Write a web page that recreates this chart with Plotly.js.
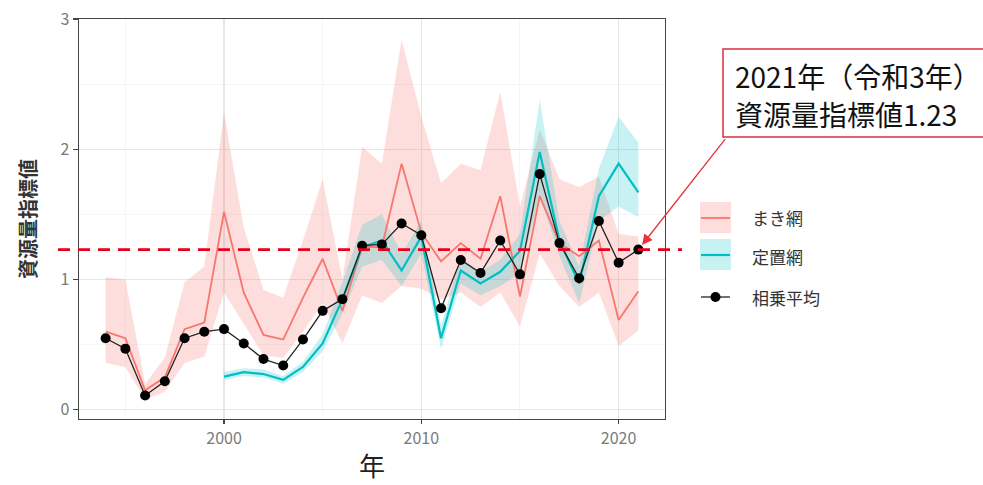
<!DOCTYPE html>
<html>
<head>
<meta charset="utf-8">
<script src="https://cdn.plot.ly/plotly-3.0.1.min.js"></script>
<style>
html,body{margin:0;padding:0;background:#fff;}
#chart{width:983px;height:485px;}
</style>
</head>
<body>
<div id="chart"></div>
<script>
// ---- data ----
const years = [1994,1995,1996,1997,1998,1999,2000,2001,2002,2003,2004,2005,2006,2007,2008,2009,2010,2011,2012,2013,2014,2015,2016,2017,2018,2019,2020,2021];
const meanIndex = [0.55,0.47,0.11,0.22,0.55,0.60,0.62,0.51,0.39,0.34,0.54,0.76,0.85,1.26,1.27,1.43,1.34,0.78,1.15,1.05,1.30,1.04,1.81,1.28,1.01,1.45,1.13,1.23];
const purseIndex = [0.60,0.55,0.15,0.25,0.62,0.67,1.52,0.90,0.575,0.54,0.86,1.16,0.76,1.25,1.25,1.89,1.36,1.14,1.28,1.16,1.64,0.87,1.64,1.28,1.18,1.30,0.69,0.91];
const purseUpper = [1.02,1.00,0.20,0.40,0.98,1.10,2.28,1.40,0.92,0.86,1.30,1.77,1.00,2.02,1.89,2.84,2.25,1.74,1.89,1.84,2.44,1.56,2.15,1.77,1.71,1.79,1.35,1.33];
const purseLower = [0.36,0.33,0.08,0.14,0.36,0.41,0.90,0.66,0.42,0.40,0.60,0.82,0.51,0.88,0.82,0.95,0.93,0.85,0.90,0.79,0.90,0.64,1.20,0.95,0.79,0.90,0.49,0.61];
const fixedYears = [2000,2001,2002,2003,2004,2005,2006,2007,2008,2009,2010,2011,2012,2013,2014,2015,2016,2017,2018,2019,2020,2021];
const fixedIndex = [0.255,0.29,0.275,0.23,0.33,0.51,0.85,1.25,1.30,1.07,1.33,0.55,1.07,0.97,1.06,1.22,1.98,1.30,0.97,1.64,1.89,1.67];
const fixedUpper = [0.29,0.32,0.31,0.26,0.37,0.58,0.98,1.42,1.50,1.20,1.45,0.65,1.17,1.06,1.15,1.35,2.38,1.45,1.10,1.85,2.25,2.05];
const fixedLower = [0.23,0.26,0.25,0.20,0.29,0.45,0.74,1.10,1.15,0.95,1.20,0.47,0.97,0.88,0.95,1.05,1.65,1.18,0.82,1.45,1.56,1.48];
const refValue = 1.23;
const refYear = 2021;
const legendLabels = ['まき網','定置網','相乗平均'];
const noteLines = ['2021年（令和3年）', '資源量指標値1.23'];

// ---- styles ----
const RED = '#F8766D', TEAL = '#00BFC4';
const FONT = '"Noto Sans CJK JP", "Noto Sans", sans-serif';

function band(xs, up, lo, color) {
  return {
    x: xs.concat(xs.slice().reverse()),
    y: up.concat(lo.slice().reverse()),
    type: 'scatter', mode: 'lines', fill: 'toself',
    fillcolor: color, line: {width: 0, color: 'rgba(0,0,0,0)'}, hoverinfo: 'skip', showlegend: false
  };
}

const traces = [
  band(years, purseUpper, purseLower, 'rgba(248,118,109,0.24)'),
  band(fixedYears, fixedUpper, fixedLower, 'rgba(0,191,196,0.22)'),
  {x: years, y: purseIndex, type: 'scatter', mode: 'lines', line: {color: RED, width: 1.8}, showlegend: false},
  {x: fixedYears, y: fixedIndex, type: 'scatter', mode: 'lines', line: {color: TEAL, width: 2.2}, showlegend: false},
  {x: years, y: meanIndex, type: 'scatter', mode: 'lines+markers', line: {color: '#222', width: 1.3},
   marker: {color: '#000', size: 10}, showlegend: false}
];

// plot area in pixels: left 79, right 665, top 19, bottom 419
const L = 79, R = 665, T = 19, B = 419;
const px = v => (v - L) / (R - L);
const py = v => (B - v) / (B - T);

const shapes = [
  {type: 'line', xref: 'paper', yref: 'y', x0: px(58), x1: px(682), y0: refValue, y1: refValue,
   line: {color: '#e8001c', width: 2.6, dash: '12px,8px'}},
  // note box
  {type: 'rect', xref: 'paper', yref: 'paper', x0: px(723), x1: px(995), y0: py(137), y1: py(49),
   fillcolor: '#fff', line: {color: '#d9303a', width: 1.5}},
  // legend keys
  {type: 'rect', xref: 'paper', yref: 'paper', x0: px(700), x1: px(731), y0: py(233), y1: py(202),
   fillcolor: 'rgba(248,118,109,0.24)', line: {width: 0}},
  {type: 'line', xref: 'paper', yref: 'paper', x0: px(701), x1: px(730), y0: py(218), y1: py(218),
   line: {color: RED, width: 1.8}},
  {type: 'rect', xref: 'paper', yref: 'paper', x0: px(700), x1: px(731), y0: py(270), y1: py(239),
   fillcolor: 'rgba(0,191,196,0.22)', line: {width: 0}},
  {type: 'line', xref: 'paper', yref: 'paper', x0: px(701), x1: px(730), y0: py(255), y1: py(255),
   line: {color: TEAL, width: 2.2}},
  {type: 'line', xref: 'paper', yref: 'paper', x0: px(701), x1: px(730), y0: py(297), y1: py(297),
   line: {color: '#222', width: 1.3}},
  {type: 'circle', xref: 'paper', yref: 'paper', x0: px(710.5), x1: px(720.5), y0: py(302), y1: py(292),
   fillcolor: '#000', line: {width: 0}}
];

const legFont = {family: FONT, size: 17, color: '#333'};
const noteFont = {family: FONT, size: 28, color: '#111'};
const annotations = [
  {xref: 'paper', yref: 'paper', x: px(750), y: py(217), xanchor: 'left', yanchor: 'middle', showarrow: false, text: legendLabels[0], font: legFont},
  {xref: 'paper', yref: 'paper', x: px(750), y: py(256), xanchor: 'left', yanchor: 'middle', showarrow: false, text: legendLabels[1], font: legFont},
  {xref: 'paper', yref: 'paper', x: px(750), y: py(297), xanchor: 'left', yanchor: 'middle', showarrow: false, text: legendLabels[2], font: legFont},
  // arrow
  {x: refYear, y: refValue, xref: 'x', yref: 'y', text: '', showarrow: true,
   axref: 'pixel', ayref: 'pixel', ax: 88, ay: -112,
   arrowcolor: '#e8313a', arrowwidth: 1.3, arrowhead: 2, arrowsize: 1.6, standoff: 6},
  // note text lines
  {xref: 'paper', yref: 'paper', x: px(734), y: py(76), xanchor: 'left', yanchor: 'middle', showarrow: false,
   text: noteLines[0], font: noteFont, borderpad: 0},
  {xref: 'paper', yref: 'paper', x: px(734), y: py(114), xanchor: 'left', yanchor: 'middle', showarrow: false,
   text: noteLines[1], font: noteFont, borderpad: 0}
];

const layout = {
  width: 983, height: 485,
  margin: {l: L, r: 983 - R, t: T, b: 485 - B, pad: 0},
  paper_bgcolor: '#fff', plot_bgcolor: '#fff',
  font: {family: FONT},
  showlegend: false,
  xaxis: {
    type: 'linear', range: [1992.65, 2022.35], tickmode: 'linear', tick0: 2000, dtick: 10,
    showgrid: true, gridcolor: '#e6e6e6', gridwidth: 1.2,
    minor: {tickmode: 'linear', tick0: 1995, dtick: 5, showgrid: true, gridcolor: '#f2f2f2', gridwidth: 0.7, ticks: ''},
    ticks: 'outside', ticklen: 4, tickcolor: '#444', tickwidth: 1.2,
    showline: true, mirror: true, linecolor: '#444', linewidth: 1.4, zeroline: false,
    tickfont: {family: FONT, size: 16, color: '#7a7a7a'},
    title: {text: '年', font: {family: FONT, size: 26, color: '#222'}, standoff: 10}
  },
  yaxis: {
    type: 'linear', range: [-0.07, 3.0], tickmode: 'linear', tick0: 0, dtick: 1,
    showgrid: true, gridcolor: '#e6e6e6', gridwidth: 1.2,
    minor: {tickmode: 'linear', tick0: 0, dtick: 0.5, showgrid: true, gridcolor: '#f2f2f2', gridwidth: 0.7, ticks: ''},
    ticks: 'outside', ticklen: 5, tickcolor: '#444', tickwidth: 1.2,
    showline: true, mirror: true, linecolor: '#444', linewidth: 1.4, zeroline: false,
    tickfont: {family: FONT, size: 16, color: '#7a7a7a'},
    title: {text: '<b>資源量指標値</b>', font: {family: FONT, size: 20, color: '#333'}, standoff: 18}
  },
  shapes: shapes,
  annotations: annotations
};

Plotly.newPlot('chart', traces, layout, {staticPlot: true, displayModeBar: false});
</script>
</body>
</html>
